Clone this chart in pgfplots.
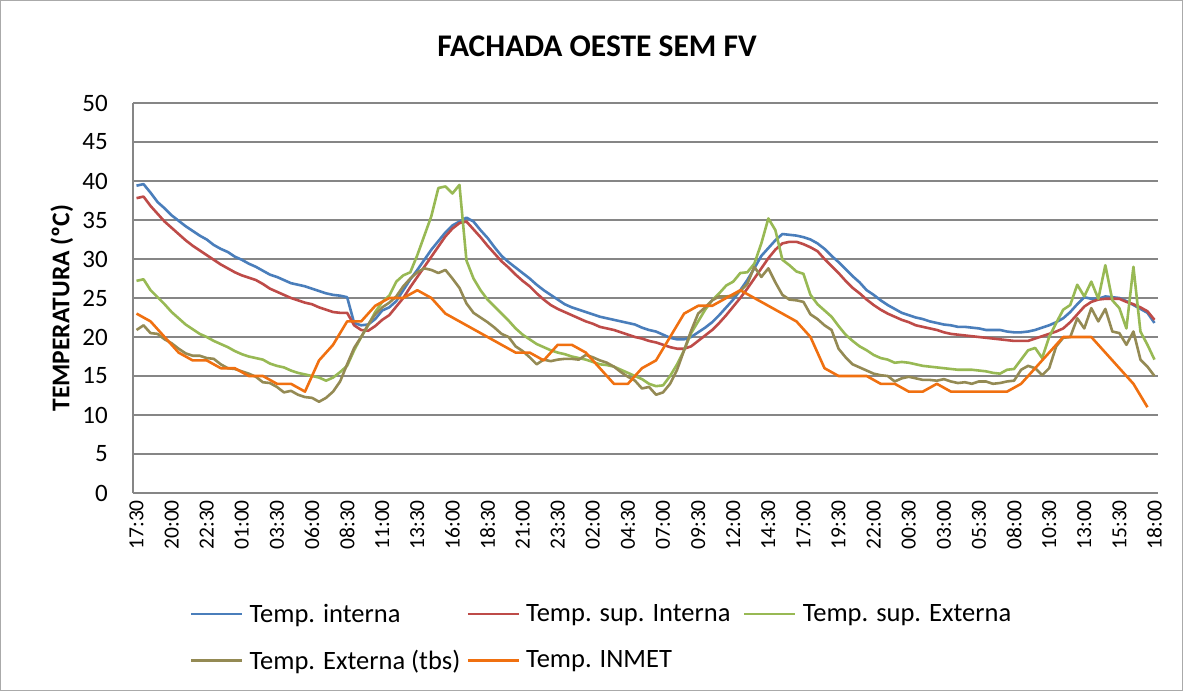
\documentclass[border=0pt]{standalone}
\usepackage{pgfplots}
\pgfplotsset{compat=1.18}
\usepackage{pgfplotstable}
\usepackage{fontspec}
\setmainfont{Carlito}
\definecolor{cblue}{RGB}{74,126,187}
\definecolor{cred}{RGB}{190,75,72}
\definecolor{cgreen}{RGB}{152,185,84}
\definecolor{colive}{RGB}{148,138,84}
\definecolor{corange}{RGB}{240,112,16}
\definecolor{cgrid}{RGB}{134,134,134}

\pgfplotstableread{
i b r g o
0 39.4 37.8 27.2 20.9
1 39.6 38.0 27.4 21.5
2 38.5 36.8 26.0 20.5
3 37.3 35.8 25.1 20.4
4 36.5 34.8 24.2 19.7
5 35.6 34.0 23.2 19.2
6 34.9 33.2 22.4 18.5
7 34.2 32.4 21.6 17.9
8 33.6 31.7 21.0 17.6
9 33.0 31.1 20.4 17.6
10 32.5 30.5 20.0 17.3
11 31.8 29.9 19.5 17.2
12 31.3 29.3 19.1 16.5
13 30.9 28.8 18.7 16.0
14 30.3 28.3 18.2 15.9
15 29.9 27.9 17.8 15.6
16 29.4 27.6 17.5 15.3
17 29.0 27.3 17.3 14.9
18 28.5 26.8 17.1 14.2
19 28.0 26.2 16.6 14.1
20 27.7 25.8 16.3 13.6
21 27.3 25.4 16.1 12.9
22 26.9 25.0 15.7 13.1
23 26.7 24.7 15.4 12.6
24 26.5 24.4 15.2 12.3
25 26.2 24.2 15.0 12.2
26 25.9 23.8 14.8 11.7
27 25.6 23.5 14.4 12.2
28 25.4 23.2 14.8 13.0
29 25.3 23.1 15.5 14.3
30 25.1 23.1 16.3 16.5
31 21.8 21.5 18.3 18.6
32 21.5 20.9 20.0 20.0
33 21.6 20.8 21.5 21.6
34 22.3 21.4 23.2 22.9
35 23.4 22.2 24.5 23.8
36 23.8 22.8 25.3 24.4
37 24.6 23.9 27.1 25.2
38 26.0 25.0 27.9 26.5
39 27.4 26.4 28.3 27.5
40 28.6 27.7 30.5 28.3
41 29.9 29.0 33.0 28.8
42 31.2 30.3 35.5 28.6
43 32.3 31.6 39.1 28.2
44 33.4 32.9 39.3 28.6
45 34.3 33.9 38.4 27.5
46 34.8 34.6 39.5 26.3
47 35.3 34.8 29.8 24.3
48 34.8 33.8 27.5 23.1
49 33.7 32.8 26.0 22.5
50 32.7 31.7 24.8 21.9
51 31.5 30.7 23.9 21.2
52 30.4 29.7 23.0 20.4
53 29.6 28.9 22.1 20.0
54 28.9 28.0 21.1 18.8
55 28.2 27.2 20.3 18.2
56 27.5 26.5 19.7 17.4
57 26.7 25.6 19.1 16.5
58 26.0 24.8 18.7 17.1
59 25.4 24.1 18.3 16.9
60 24.8 23.6 18.0 17.1
61 24.2 23.2 17.8 17.2
62 23.8 22.8 17.5 17.2
63 23.5 22.4 17.3 17.1
64 23.2 22.0 17.1 17.7
65 22.9 21.7 16.8 17.4
66 22.6 21.3 16.5 17.0
67 22.4 21.1 16.4 16.7
68 22.2 20.9 16.2 16.2
69 22.0 20.6 15.8 15.5
70 21.8 20.3 15.4 14.9
71 21.6 20.0 15.0 14.4
72 21.2 19.8 14.6 13.4
73 20.9 19.5 14.0 13.6
74 20.7 19.3 13.7 12.6
75 20.3 19.0 13.8 12.9
76 19.9 18.7 15.0 14.0
77 19.7 18.5 16.5 15.8
78 19.7 18.5 18.3 18.3
79 20.0 18.8 20.5 20.8
80 20.6 19.5 22.0 23.0
81 21.2 20.2 23.5 23.8
82 21.9 20.9 24.7 24.7
83 22.8 21.8 25.6 25.2
84 23.8 22.8 26.6 25.2
85 24.8 23.9 27.1 25.3
86 26.0 25.0 28.2 25.9
87 27.3 26.2 28.3 26.8
88 28.8 27.5 29.4 29.0
89 30.4 28.8 32.0 27.7
90 31.4 30.1 35.2 28.8
91 32.4 31.2 33.7 27.0
92 33.2 32.0 29.9 25.4
93 33.1 32.2 29.2 24.8
94 33.0 32.2 28.4 24.7
95 32.8 31.9 28.1 24.5
96 32.5 31.5 25.4 22.9
97 32.0 31.0 24.2 22.3
98 31.3 30.0 23.4 21.5
99 30.4 29.1 22.6 20.9
100 29.6 28.2 21.4 18.5
101 28.7 27.2 20.3 17.4
102 27.8 26.3 19.5 16.5
103 27.0 25.6 18.8 16.1
104 26.0 24.8 18.3 15.7
105 25.4 24.1 17.7 15.3
106 24.7 23.5 17.3 15.1
107 24.1 23.0 17.1 15.0
108 23.6 22.6 16.7 14.3
109 23.1 22.2 16.8 14.7
110 22.8 21.9 16.7 14.9
111 22.5 21.5 16.5 14.7
112 22.3 21.3 16.3 14.5
113 22.0 21.1 16.2 14.5
114 21.8 20.9 16.1 14.4
115 21.6 20.6 16.0 14.6
116 21.5 20.4 15.9 14.3
117 21.3 20.3 15.8 14.1
118 21.3 20.2 15.8 14.2
119 21.2 20.1 15.8 14.0
120 21.1 20.0 15.7 14.3
121 20.9 19.9 15.6 14.3
122 20.9 19.8 15.4 14.0
123 20.9 19.7 15.3 14.1
124 20.7 19.6 15.8 14.3
125 20.6 19.5 15.9 14.4
126 20.6 19.5 17.1 15.8
127 20.7 19.5 18.3 16.3
128 20.9 19.8 18.6 16.0
129 21.2 20.1 17.3 15.1
130 21.5 20.4 20.0 16.0
131 21.9 20.7 21.8 18.8
132 22.4 21.1 23.5 19.9
133 23.2 21.9 24.1 20.0
134 24.2 22.9 26.7 22.4
135 25.1 23.9 25.2 21.1
136 24.9 24.5 27.1 23.7
137 24.9 24.8 24.9 22.0
138 25.2 24.9 29.2 23.6
139 25.1 24.9 24.7 20.7
140 25.0 24.9 23.7 20.5
141 24.6 24.5 21.1 19.0
142 24.1 24.2 29.0 20.7
143 23.6 23.8 20.7 17.1
144 23.1 23.3 19.0 16.2
145 21.8 22.2 17.1 15.0
}\maintable

\pgfplotstableread{
i t
0 23
2 22
4 20
6 18
8 17
10 17
12 16
14 16
16 15
18 15
20 14
22 14
24 13
26 17
28 19
30 22
32 22
34 24
36 25
38 25
40 26
42 25
44 23
46 22
48 21
50 20
52 19
54 18
56 18
58 17
60 19
62 19
64 18
66 16
68 14
70 14
72 16
74 17
76 20
78 23
80 24
82 24
84 25
86 26
88 25
90 24
92 23
94 22
96 20
98 16
100 15
102 15
104 15
106 14
108 14
110 13
112 13
114 14
116 13
118 13
120 13
122 13
124 13
126 14
128 16
130 18
132 20
134 20
136 20
138 18
140 16
142 14
144 11
}\inmet

\begin{document}
\begin{tikzpicture}
\useasboundingbox (0,0) rectangle (1183pt,691pt);
\fill[white] (0,0) rectangle (1183pt,691pt);
\draw[cgrid!70, line width=1pt] (0.5pt,0.5pt) rectangle (1182.5pt,690.5pt);
\begin{axis}[
  at={(133pt,198pt)}, anchor=south west,
  scale only axis, width=1025pt, height=390pt,
  xmin=-0.5, xmax=145.5, ymin=0, ymax=50,
  xtick={0,5,...,145},
  xticklabels={17:30,20:00,22:30,01:00,03:30,06:00,08:30,11:00,13:30,16:00,18:30,21:00,23:30,02:00,04:30,07:00,09:30,12:00,14:30,17:00,19:30,22:00,00:30,03:00,05:30,08:00,10:30,13:00,15:30,18:00},
  ytick={0,5,...,50},
  ymajorgrids,
  major grid style={cgrid, line width=1.5pt},
  axis x line*=bottom, axis y line*=left,
  axis line style={cgrid, line width=1.5pt},
  tick style={draw=none},
  /pgf/number format/assume math mode=true,
  xticklabel style={font=\fontsize{21.5}{25}\selectfont, yshift=-7pt, rotate=90, anchor=east, inner sep=0pt},
  yticklabel style={font=\fontsize{25}{29}\selectfont, anchor=east, inner sep=0pt, xshift=-25pt},
  title={FACHADA OESTE SEM FV},
  title style={at={(axis description cs:0.4527,1.1308)}, anchor=center, font=\bfseries\fontsize{31.5}{37}\selectfont},
  ylabel={TEMPERATURA (ºC)},
  ylabel style={at={(axis description cs:-0.0693,0.474)}, anchor=center, font=\bfseries\fontsize{25.5}{30}\selectfont},
  legend columns=3,
  legend cell align=left,
  legend style={at={(axis description cs:0.0556,-0.2847)}, anchor=north west, draw=none, fill=none,
    inner sep=0pt, outer sep=0pt, font=\fontsize{26.5}{31}\selectfont, row sep=26pt, column sep=0pt,
    nodes={inner sep=0pt}},
  legend image code/.code={\draw[#1] (0pt,0pt) -- (51pt,0pt);},
  every axis plot/.append style={line width=2.6pt, line join=round, no markers},
]
\addplot[cblue] table[x=i, y=b] {\maintable};
\addlegendentry{\hspace{6pt}\makebox[217pt][l]{Temp. interna}}
\addplot[cred] table[x=i, y=r] {\maintable};
\addlegendentry{\hspace{6pt}\makebox[217pt][l]{Temp. sup. Interna}}
\addplot[cgreen] table[x=i, y=g] {\maintable};
\addlegendentry{\hspace{6pt}\makebox[217pt][l]{Temp. sup. Externa}}
\addplot[colive] table[x=i, y=o] {\maintable};
\addlegendentry{\hspace{6pt}\makebox[217pt][l]{Temp. Externa (tbs)}}
\addplot[corange] table[x=i, y=t] {\inmet};
\addlegendentry{\hspace{6pt}\makebox[217pt][l]{Temp. INMET}}
\end{axis}
\end{tikzpicture}
\end{document}
